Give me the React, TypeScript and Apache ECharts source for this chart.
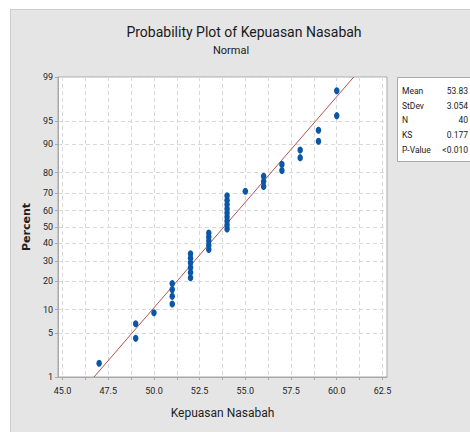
import React, { useEffect, useRef } from "react";
import * as echarts from "echarts";

const titleText = "Probability Plot of Kepuasan Nasabah";
const subtitleText = "Normal";
const xAxisName = "Kepuasan Nasabah";
const yAxisName = "Percent";

// observed data values (sorted) and their plotted percentiles
const xValues = [
  47, 49, 49, 50, 51, 51, 51, 51, 52, 52, 52, 52, 52, 52, 53, 53, 53, 53, 53,
  54, 54, 54, 54, 54, 54, 54, 54, 54, 55, 56, 56, 56, 57, 57, 58, 58, 59, 59,
  60, 60,
];
const percentValues = [
  1.73, 4.21, 6.68, 9.16, 11.63, 14.11, 16.58, 19.06, 21.53, 24.01, 26.49,
  28.96, 31.44, 33.91, 36.39, 38.86, 41.34, 43.81, 46.29, 48.76, 51.24, 53.71,
  56.19, 58.66, 61.14, 63.61, 66.09, 68.56, 71.04, 73.51, 75.99, 78.47, 80.94,
  83.42, 85.89, 88.37, 90.84, 93.32, 95.79, 98.27,
];

// fitted normal line endpoints
const fitX = [46.72, 60.93];
const fitPercent = [1, 99];

const yTickPercents = [1, 5, 10, 20, 30, 40, 50, 60, 70, 80, 90, 95, 99];
const xTickLabels = [45, 47.5, 50, 52.5, 55, 57.5, 60, 62.5];
const xTicks = [
  45, 46.25, 47.5, 48.75, 50, 51.25, 52.5, 53.75, 55, 56.25, 57.5, 58.75, 60,
  61.25, 62.5,
];

const statLabels = ["Mean", "StDev", "N", "KS", "P-Value"];
const statValues = ["53.83", "3.054", "40", "0.177", "<0.010"];

// inverse standard normal CDF (probability-scale transform)
function probit(p: number): number {
  const a = [-3.969683028665376e1, 2.209460984245205e2, -2.759285104469687e2, 1.38357751867269e2, -3.066479806614716e1, 2.506628277459239];
  const b = [-5.447609879822406e1, 1.615858368580409e2, -1.556989798598866e2, 6.680131188771972e1, -1.328068155288572e1];
  const c = [-7.784894002430293e-3, -3.223964580411365e-1, -2.400758277161838, -2.549732539343734, 4.374664141464968, 2.938163982698783];
  const d = [7.784695709041462e-3, 3.224671290700398e-1, 2.445134137142996, 3.754408661907416];
  const plow = 0.02425;
  const phigh = 1 - plow;
  if (p < plow) {
    const q = Math.sqrt(-2 * Math.log(p));
    return (((((c[0] * q + c[1]) * q + c[2]) * q + c[3]) * q + c[4]) * q + c[5]) /
      ((((d[0] * q + d[1]) * q + d[2]) * q + d[3]) * q + 1);
  }
  if (p <= phigh) {
    const q = p - 0.5;
    const r = q * q;
    return ((((((a[0] * r + a[1]) * r + a[2]) * r + a[3]) * r + a[4]) * r + a[5]) * q) /
      (((((b[0] * r + b[1]) * r + b[2]) * r + b[3]) * r + b[4]) * r + 1);
  }
  const q = Math.sqrt(-2 * Math.log(1 - p));
  return -(((((c[0] * q + c[1]) * q + c[2]) * q + c[3]) * q + c[4]) * q + c[5]) /
    ((((d[0] * q + d[1]) * q + d[2]) * q + d[3]) * q + 1);
}

const FONT = "Roboto, 'Open Sans', sans-serif";

export default function App() {
  const ref = useRef<HTMLDivElement>(null);

  useEffect(() => {
    if (!ref.current) return;
    const chart = echarts.init(ref.current, null, { renderer: "svg" });
    const yTickZ = yTickPercents.map((p) => probit(p / 100));
    const zMin = probit(0.01);
    const zMax = probit(0.99);

    const option: any = {
      animation: false,
      grid: {
        left: 58,
        top: 77,
        width: 329,
        height: 300,
        show: true,
        backgroundColor: "#ffffff",
        borderColor: "#a9a9a9",
        borderWidth: 1,
      },
      xAxis: {
        type: "value",
        min: 44.75,
        max: 62.75,
        name: xAxisName,
        nameLocation: "middle",
        nameGap: 30,
        nameTextStyle: { fontFamily: FONT, fontSize: 12, color: "#1e1e1e" },
        axisLine: { show: true, onZero: false, lineStyle: { color: "#a9a9a9", width: 1 } },
        axisTick: {
          show: true,
          customValues: xTicks,
          length: 3,
          lineStyle: { color: "#a9a9a9" },
        },
        axisLabel: {
          customValues: xTickLabels,
          formatter: (v: number) => v.toFixed(1),
          fontFamily: FONT,
          fontSize: 9,
          color: "#1e1e1e",
          margin: 9,
        },
        splitLine: {
          show: true,
          lineStyle: { color: "#d9d9d9", type: [4, 3], width: 1 },
        },
      },
      yAxis: {
        type: "value",
        min: zMin,
        max: zMax,
        name: yAxisName,
        nameLocation: "middle",
        nameRotate: 90,
        nameGap: 18,
        nameTextStyle: {
          fontFamily: "'DejaVu Sans', sans-serif",
          fontWeight: "bold",
          fontSize: 11,
          color: "#1e1e1e",
        },
        axisLine: { show: true, onZero: false, lineStyle: { color: "#a9a9a9", width: 1 } },
        axisTick: {
          show: true,
          customValues: yTickZ,
          length: 3,
          lineStyle: { color: "#a9a9a9" },
        },
        axisLabel: {
          customValues: yTickZ,
          formatter: (v: number) => {
            let best = yTickPercents[0];
            let bd = Infinity;
            yTickPercents.forEach((p) => {
              const dd = Math.abs(probit(p / 100) - v);
              if (dd < bd) {
                bd = dd;
                best = p;
              }
            });
            return String(best);
          },
          fontFamily: FONT,
          fontSize: 9,
          color: "#1e1e1e",
          margin: 5,
        },
        splitLine: {
          show: true,
          lineStyle: { color: "#d9d9d9", type: [4, 3], width: 1 },
        },
      },
      series: [
        {
          type: "line",
          data: fitX.map((x, i) => [x, probit(fitPercent[i] / 100)]),
          showSymbol: false,
          symbol: "none",
          lineStyle: { color: "#b5524e", width: 1 },
          z: 2,
          silent: true,
        },
        {
          type: "scatter",
          data: xValues.map((x, i) => [x, probit(percentValues[i] / 100)]),
          symbol: "circle",
          symbolSize: [5.5, 7],
          itemStyle: { color: "#0b56a5", opacity: 1 },
          z: 3,
        },
      ],
      graphic: [
        {
          type: "text",
          x: 244,
          y: 32,
          style: {
            text: titleText,
            fontFamily: FONT,
            fontSize: 14,
            fill: "#1a1a1a",
            textAlign: "center",
            textVerticalAlign: "middle",
          },
        },
        {
          type: "text",
          x: 231,
          y: 50,
          style: {
            text: subtitleText,
            fontFamily: FONT,
            fontSize: 11,
            fill: "#1a1a1a",
            textAlign: "center",
            textVerticalAlign: "middle",
          },
        },
        {
          type: "rect",
          shape: { x: 397.5, y: 77.5, width: 80, height: 84 },
          style: { fill: "#ffffff", stroke: "#a9a9a9", lineWidth: 1 },
          z: 10,
        },
        ...statLabels.map((s, i) => ({
          type: "text",
          x: 402,
          y: 91 + i * 14.7,
          z: 11,
          style: {
            text: s,
            fontFamily: FONT,
            fontSize: 8.5,
            fill: "#1a1a1a",
            textAlign: "left",
            textVerticalAlign: "middle",
          },
        })),
        ...statValues.map((s, i) => ({
          type: "text",
          x: 468,
          y: 91 + i * 14.7,
          z: 11,
          style: {
            text: s,
            fontFamily: FONT,
            fontSize: 8.5,
            fill: "#1a1a1a",
            textAlign: "right",
            textVerticalAlign: "middle",
          },
        })),
      ],
    };
    chart.setOption(option);
    return () => chart.dispose();
  }, []);

  return (
    <div style={{ position: "absolute", left: 0, top: 0, width: 470, height: 432, background: "#ffffff" }}>
      <div
        style={{
          position: "absolute",
          left: 10,
          top: 9,
          width: 460,
          height: 423,
          background: "#e5e5e5",
          boxSizing: "border-box",
          borderLeft: "1px solid #cdcdcd",
          borderTop: "1px solid #cdcdcd",
        }}
      />
      <div ref={ref} style={{ position: "absolute", left: 0, top: 0, width: 470, height: 432 }} />
    </div>
  );
}
